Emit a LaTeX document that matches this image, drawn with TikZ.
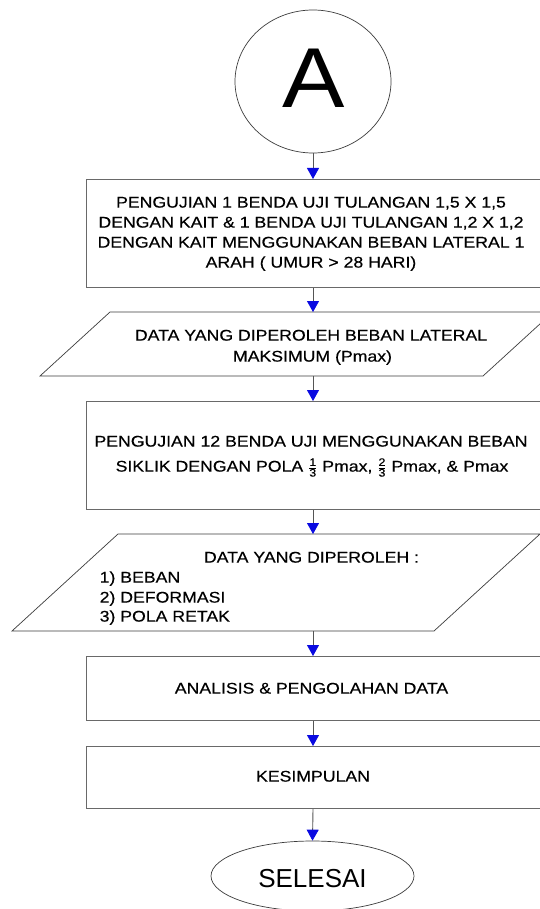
\documentclass[tikz,border=0pt]{standalone}
\usepackage{fontspec}
\usepackage{amsmath}
\setmainfont{Liberation Sans}
\newfontfamily\flowfont[FakeStretch=1.14,FakeBold=0.4]{Liberation Sans}
\newfontfamily\letterfont[FakeStretch=1.1]{Liberation Sans}
\usetikzlibrary{arrows.meta,shapes.geometric}
\definecolor{edgegray}{RGB}{105,105,105}
\definecolor{outlinegray}{RGB}{60,60,60}
\definecolor{linkgray}{RGB}{85,85,85}
\definecolor{headblue}{RGB}{10,10,225}
\newcommand{\thirds}[1]{\ensuremath{\frac{\text{#1}}{\text{3}}}}

\begin{document}
\begin{tikzpicture}[x=1pt,y=-1pt,
  flowbox/.style={draw=edgegray, line width=1.1pt, anchor=north west,
    minimum width=470pt, inner sep=0pt},
  slantbox/.style={draw=outlinegray, line width=0.7pt},
  terminal/.style={draw=outlinegray, line width=0.7pt, ellipse, inner sep=0pt},
  label/.style={font=\flowfont\fontsize{15.5}{18}\selectfont, inner sep=0pt, anchor=base},
  listitem/.style={label, anchor=base west},
  flow/.style={draw=linkgray, line width=0.9pt,
    -{Triangle[width=12pt,length=11pt,color=headblue]}}
]
\useasboundingbox (0,0) rectangle (540,909);
\clip (0,0) rectangle (540,909);
\fill[white] (0,0) rectangle (540,909);

% start connector
\node[terminal, minimum width=156pt, minimum height=143pt] (A) at (313,81.5) {};
\node[font=\letterfont\fontsize{85}{90}\selectfont, inner sep=0pt, anchor=base] (Atext) at (313.5,108) {A};

% first test
\node[flowbox, minimum height=108pt] (b1) at (86,179) {};
\node[label] (b1l1) at (311,207.6) {PENGUJIAN 1 BENDA UJI TULANGAN 1,5 X 1,5};
\node[label] (b1l2) at (311,227.6) {DENGAN KAIT \& 1 BENDA UJI TULANGAN 1,2 X 1,2};
\node[label] (b1l3) at (311,247.6) {DENGAN KAIT MENGGUNAKAN BEBAN LATERAL 1};
\node[label] (b1l4) at (311,267.6) {ARAH ( UMUR > 28 HARI)};

% maximum lateral load
\draw[slantbox] (40,376) -- (110,312) -- (553,312) -- (483,376) -- cycle;
\coordinate (p1n) at (313,312);
\coordinate (p1s) at (313,376);
\node[label] (p1l1) at (311,340.6) {DATA YANG DIPEROLEH BEBAN LATERAL};
\node[label] (p1l2) at (312.5,361.6) {MAKSIMUM (Pmax)};

% cyclic test
\node[flowbox, minimum height=108pt] (b2) at (86,401) {};
\node[label] (b2l1) at (311,446.6) {PENGUJIAN 12 BENDA UJI MENGGUNAKAN BEBAN};
\node[label] (b2l2) at (312,471.6) {SIKLIK DENGAN POLA \thirds{1} Pmax, \thirds{2} Pmax, \& Pmax};

% collected data
\draw[slantbox] (12,631) -- (118,534) -- (540,534) -- (434,631) -- cycle;
\coordinate (p2n) at (313,534);
\coordinate (p2s) at (313,631);
\node[label] (p2l1) at (311.5,562.6) {DATA YANG DIPEROLEH :};
\node[listitem] (p2l2) at (99.5,582.6) {1) BEBAN};
\node[listitem] (p2l3) at (99.5,602.6) {2) DEFORMASI};
\node[listitem] (p2l4) at (99.5,621.6) {3) POLA RETAK};

% analysis
\node[flowbox, minimum height=64pt] (b3) at (86,656) {};
\node[label] (b3l1) at (311.5,693.6) {ANALISIS \& PENGOLAHAN DATA};

% conclusion
\node[flowbox, minimum height=62pt] (b4) at (86,746) {};
\node[label] (b4l1) at (313,781.6) {KESIMPULAN};

% end
\node[terminal, minimum width=203pt, minimum height=70pt] (E) at (312.5,876) {};
\node[font=\fontsize{26}{30}\selectfont, inner sep=0pt, anchor=base] (Etext) at (312.5,887.3) {SELESAI};

% connectors
\draw[flow] (A.south) -- (A |- b1.north);
\draw[flow] (A |- b1.south) -- (p1n);
\draw[flow] (p1s) -- (A |- b2.north);
\draw[flow] (A |- b2.south) -- (p2n);
\draw[flow] (p2s) -- (A |- b3.north);
\draw[flow] (A |- b3.south) -- (A |- b4.north);
\draw[flow] (A |- b4.south) -- (E.north);
\end{tikzpicture}
\end{document}
